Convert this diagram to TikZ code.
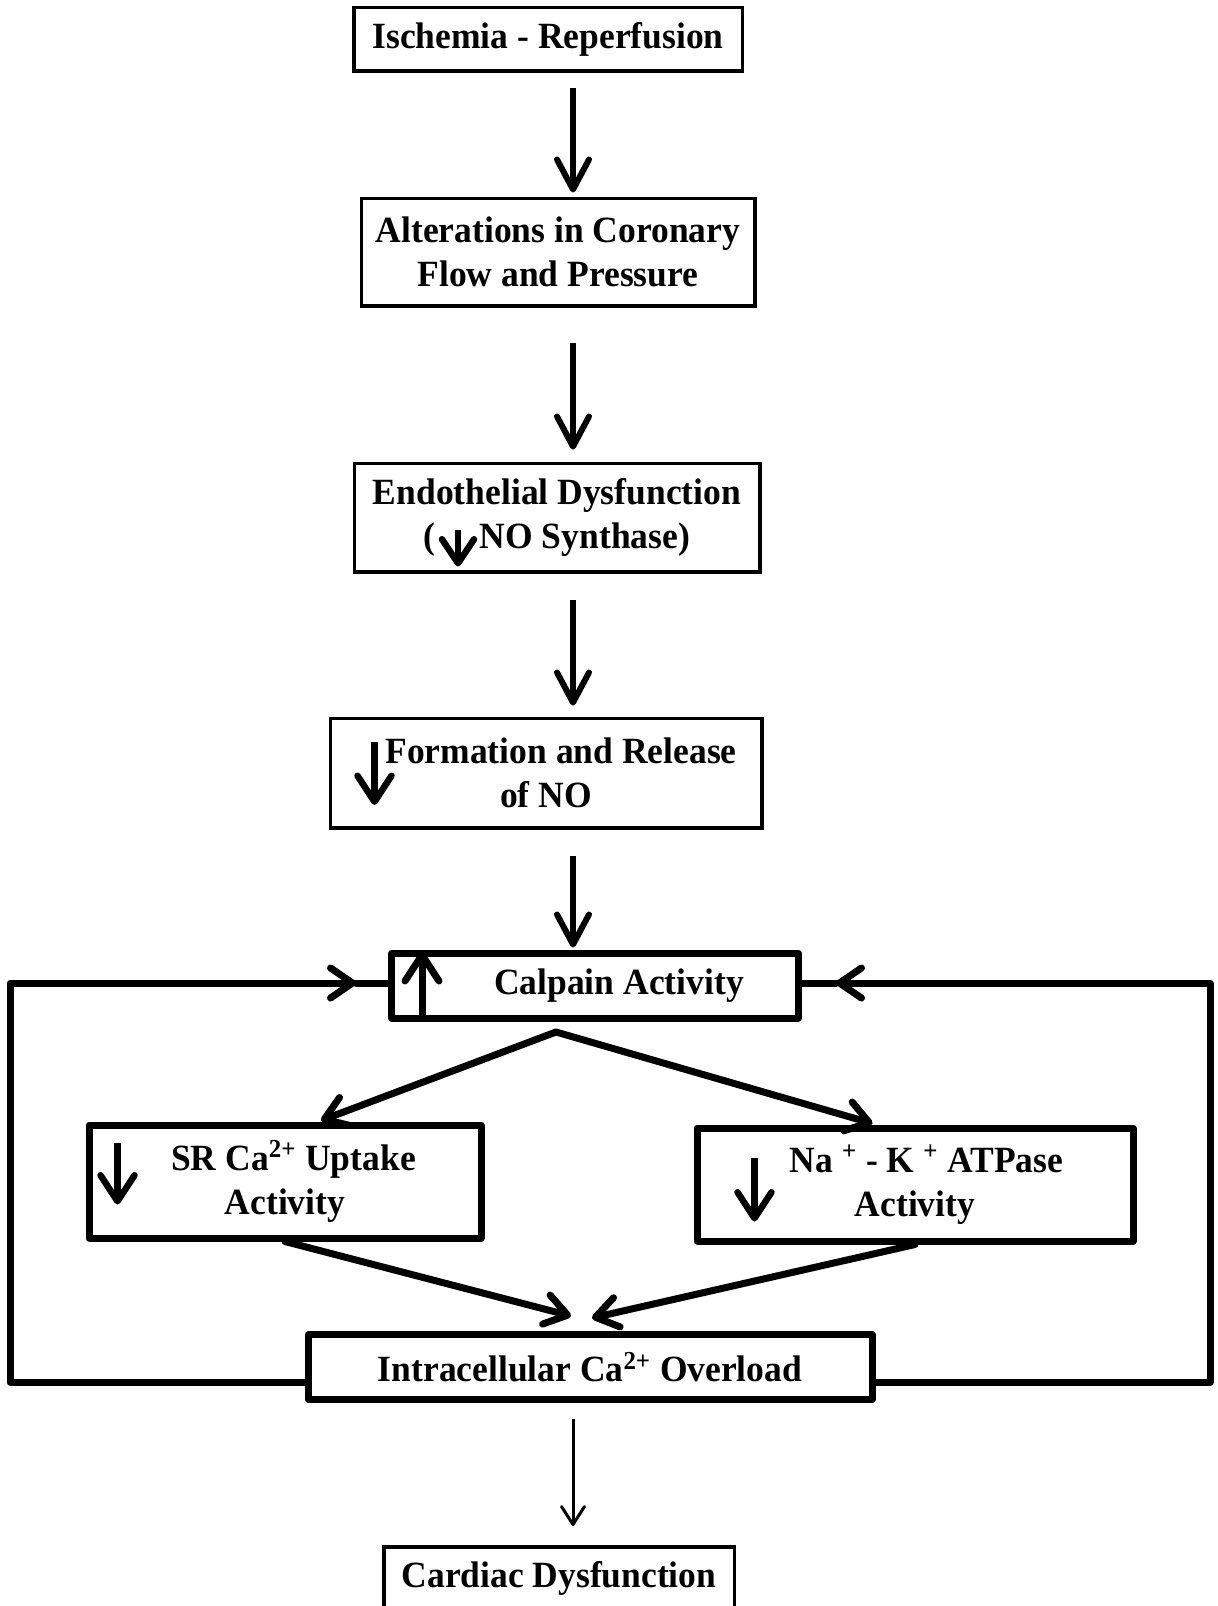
\documentclass[tikz,border=0pt]{standalone}
\usepackage{fontspec}
\setmainfont{Liberation Serif}[FakeStretch=0.96]
\usetikzlibrary{arrows.meta,positioning,calc}

\begin{document}
\begin{tikzpicture}[x=0.5pt,y=-0.5pt,
      box/.style={draw,line width=1.75pt,align=center,inner sep=0pt,
        font=\fontsize{18.5pt}{22pt}\selectfont\bfseries},
      heavybox/.style={box,line width=3.5pt,line join=round},
      flowarr/.style={line width=3pt,-{Straight Barb[length=15pt,width=16pt,round]}},
      loopline/.style={line width=3.5pt,line join=round,line cap=round},
      looparr/.style={loopline,-{Straight Barb[length=11pt,width=15pt,round]}},
      thinarr/.style={line width=1.5pt,-{Straight Barb[length=9pt,width=11.5pt,round]}},
      symarr/.style={line width=3.25pt,-{Straight Barb[length=13pt,width=17pt,round]}}]
    \useasboundingbox (0,0) rectangle (1217,1606);
    % main chain
    \node[box,minimum width=194.25pt,minimum height=31.75pt] (isch) at (548,39) {Ischemia - Reperfusion};
    \node[box,minimum width=196.75pt,minimum height=53.75pt,below=62pt of isch,xshift=5pt] (alt)
      {Alterations in Coronary\\Flow and Pressure};
    \node[box,minimum width=202.75pt,minimum height=54.25pt,below=77pt of alt,xshift=-0.5pt] (endo)
      {Endothelial Dysfunction\\(\hspace{22pt}NO Synthase)};
    \node[box,minimum width=215.75pt,minimum height=54.75pt,below=71.5pt of endo,xshift=-5.5pt] (form)
      {\hspace*{15pt}Formation and Release\\of NO};
    \node[heavybox,minimum width=203.5pt,minimum height=32.5pt,below=60pt of form,xshift=24.5pt] (cal)
      {\hspace*{24pt}Calpain Activity};
    \node[heavybox,minimum width=196pt,minimum height=56.5pt,below=50pt of cal,xshift=-155pt] (sr)
      {\hspace*{8.5pt}SR Ca\textsuperscript{2+} Uptake\\Activity};
    \node[heavybox,minimum width=218pt,minimum height=56.5pt,below=51.5pt of cal,xshift=160pt] (nak)
      {\hspace*{11.5pt}Na \textsuperscript{+} - K \textsuperscript{+} ATPase\\Activity};
    \node[heavybox,minimum width=282pt,minimum height=32.5pt] (ovl) at (590,1367)
      {Intracellular Ca\textsuperscript{2+} Overload};
    \node[box,minimum width=175.25pt,minimum height=32pt,below=71pt of ovl,xshift=-15.5pt] (card)
      {Cardiac Dysfunction};
    % vertical arrows
    \coordinate (spine) at (573,0);
    \draw[flowarr,shorten <=7.5pt,shorten >=2pt] (isch.south -| spine) -- (alt.north -| spine);
    \draw[flowarr,shorten <=17.5pt,shorten >=6pt] (alt.south -| spine) -- (endo.north -| spine);
    \draw[flowarr,shorten <=13pt,shorten >=5.5pt] (endo.south -| spine) -- (form.north -| spine);
    \draw[flowarr,shorten <=13pt,shorten >=1pt] (form.south -| spine) -- (cal.north -| spine);
    \draw[thinarr,shorten <=8pt,shorten >=9.5pt] (ovl.south -| spine) -- (card.north -| spine);
    % feedback loops
    \coordinate (lcorner) at (10,983);
    \coordinate (rcorner) at (1210,983);
    \coordinate (lin) at (356,983);
    \coordinate (rin) at (836,983);
    \draw[looparr] ($(ovl.west)+(0,15)$) -| (lcorner) -- (lin);
    \draw[loopline] (lin) -- (lin -| cal.west);
    \draw[looparr] ($(ovl.east)+(0,15)$) -| (rcorner) -- (rin);
    \draw[loopline] (rin) -- (rin -| cal.east);
    % split and merge
    \coordinate (split) at (556,1032);
    \coordinate (srin) at ($(sr.north)+(36,-1)$);
    \coordinate (nakin) at ($(nak.north)+(-42.5,-1)$);
    \coordinate (ovlinl) at ($(ovl.north)+(-19,-15)$);
    \coordinate (ovlinr) at ($(ovl.north)+(2,-13)$);
    \draw[looparr] (split) -- (srin);
    \draw[looparr] (split) -- (nakin);
    \draw[looparr] (sr.south) -- (ovlinl);
    \draw[looparr] (nak.south) -- (ovlinr);
    % arrows inside boxes
    \draw[symarr] ($(form.west)+(46,-31)$) -- ($(form.west)+(46,32)$);
    \draw[symarr,-{Straight Barb[length=12pt,width=16pt,round]}]
      ($(endo.center)+(-99,12)$) -- ($(endo.center)+(-99,49)$);
    \draw[symarr,line width=3.5pt] ($(cal.south west)+(34,0)$) -- ($(cal.north west)+(34,2)$);
    \draw[symarr] ($(sr.west)+(32,-39)$) -- ($(sr.west)+(32,23)$);
    \draw[symarr] ($(nak.west)+(61,-27)$) -- ($(nak.west)+(61,37)$);
  \end{tikzpicture}
\end{document}
